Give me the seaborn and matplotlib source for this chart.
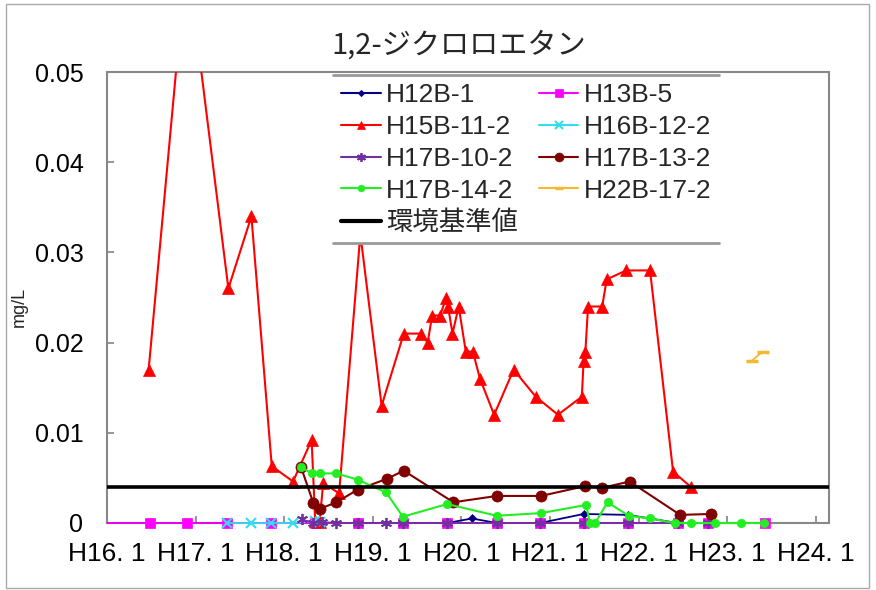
import matplotlib
matplotlib.use("Agg")
import matplotlib.pyplot as plt
import seaborn as sns
from matplotlib.lines import Line2D
from matplotlib.patches import Rectangle

sns.set_theme(style="white")
plt.rcParams['font.family'] = ['Liberation Sans', 'Noto Sans CJK JP', 'DejaVu Sans']

# ---------------- data ----------------
title_text = "1,2-ジクロロエタン"
y_label = "mg/L"
x_tick_pos = [16, 17, 18, 19, 20, 21, 22, 23, 24]
x_tick_labels = ["H16. 1", "H17. 1", "H18. 1", "H19. 1", "H20. 1",
                 "H21. 1", "H22. 1", "H23. 1", "H24. 1"]
y_ticks = [0, 0.01, 0.02, 0.03, 0.04, 0.05]
standard_label = "環境基準値"
standard_value = 0.004

h12b1_x = [15.5, 16.49, 16.90, 17.35, 17.85, 18.35, 18.83, 19.34, 19.84, 20.12,
           20.40, 20.89, 21.38, 21.88, 22.44]
h12b1_y = [0, 0, 0, 0, 0, 0, 0, 0, 0, 0.0005, 0, 0, 0.0010, 0.0009, 0]

h13b5_x = [15.5, 16.49, 16.90, 17.35, 17.85, 18.35, 18.83, 19.34, 19.84, 20.40,
           20.89, 21.38, 21.88, 22.44, 22.78, 23.43]
h13b5_y = [0] * 16

h15b112_x = [16.47, 16.90, 17.37, 17.63, 17.86, 18.10, 18.31, 18.35, 18.40, 18.44,
             18.62, 18.86, 19.10, 19.35, 19.54, 19.62, 19.67, 19.76, 19.83, 19.85,
             19.90, 19.97, 20.05, 20.13, 20.21, 20.37, 20.59, 20.84, 21.09, 21.36,
             21.38, 21.40, 21.43, 21.59, 21.64, 21.86, 22.13, 22.39, 22.59]
h15b112_y = [0.017, 0.063, 0.026, 0.034, 0.0063, 0.0046, 0.0092, 0.0002, 0.0001, 0.0044,
             0.0033, 0.032, 0.013, 0.021, 0.021, 0.020, 0.023, 0.023, 0.025, 0.024,
             0.021, 0.024, 0.019, 0.019, 0.016, 0.012, 0.017, 0.014, 0.012, 0.014,
             0.018, 0.019, 0.024, 0.024, 0.027, 0.028, 0.028, 0.0057, 0.0040]

h16b122_x = [17.35, 17.62, 17.85, 18.10, 18.35, 18.40]
h16b122_y = [0, 0, 0, 0, 0.0002, 0.0001]

h17b102_x = [18.20, 18.33, 18.43, 18.59, 18.83, 19.15, 19.34, 19.84, 20.40, 20.89,
             21.38, 21.88, 22.44, 22.78]
h17b102_y = [0.0004, 0, 0.0001, 0, 0, 0, 0, 0, 0, 0, 0, 0, 0, 0]

h17b132_x = [18.19, 18.33, 18.41, 18.59, 18.83, 19.16, 19.35, 19.91, 20.40, 20.90,
             21.40, 21.59, 21.90, 22.47, 22.82]
h17b132_y = [0.0062, 0.0022, 0.0016, 0.0023, 0.0037, 0.0049, 0.0058, 0.0023, 0.0030,
             0.0030, 0.0041, 0.0039, 0.0046, 0.0009, 0.0010]

h17b142_x = [18.19, 18.31, 18.40, 18.59, 18.83, 19.15, 19.34, 19.84, 20.40, 20.90,
             21.41, 21.45, 21.51, 21.65, 21.89, 22.13, 22.41, 22.59, 22.86, 23.16, 23.42]
h17b142_y = [0.0062, 0.0055, 0.0055, 0.0055, 0.0048, 0.0034, 0.0007, 0.0021, 0.0008,
             0.0011, 0.0020, 0, 0, 0.0023, 0.0008, 0.0005, 0, 0, 0, 0, 0]

h22b172_x = [23.28, 23.40]
h22b172_y = [0.018, 0.019]

series = [
    ("H12B-1", h12b1_x, h12b1_y),
    ("H13B-5", h13b5_x, h13b5_y),
    ("H15B-11-2", h15b112_x, h15b112_y),
    ("H16B-12-2", h16b122_x, h16b122_y),
    ("H17B-10-2", h17b102_x, h17b102_y),
    ("H17B-13-2", h17b132_x, h17b132_y),
    ("H17B-14-2", h17b142_x, h17b142_y),
    ("H22B-17-2", h22b172_x, h22b172_y),
]

# ---------------- styles ----------------
styles = {
    "H12B-1":    dict(color="#000080", marker="D", ms=4, mew=0.5, lw=1.3),
    "H13B-5":    dict(color="#ff00ff", marker="s", ms=7, mew=0.5, lw=1.3),
    "H15B-11-2": dict(color="#ff0000", marker="^", ms=8, mew=0.5, lw=1.5),
    "H16B-12-2": dict(color="#33ddf0", marker="x", ms=7, mew=1.5, lw=1.3),
    "H17B-10-2": dict(color="#7030a0", marker=(6, 2, 0), ms=8, mew=1.3, lw=1.3),
    "H17B-13-2": dict(color="#800000", marker="o", ms=8, mew=0.5, lw=1.5),
    "H17B-14-2": dict(color="#22ee22", marker="o", ms=6, mew=0.5, lw=1.5),
    "H22B-17-2": dict(color="#f5b830", marker="_", ms=8, mew=2.5, lw=1.3),
}

fig = plt.figure(figsize=(8.76, 5.90), dpi=100)
ax = fig.add_axes([107 / 876, 1 - 523 / 590, 722 / 876, 451 / 590])

for name, xs, ys in series:
    st = styles[name]
    sns.lineplot(x=xs, y=ys, ax=ax, color=st["color"], marker=st["marker"],
                 markersize=st["ms"], markeredgewidth=st["mew"],
                 markeredgecolor=st["color"], linewidth=st["lw"],
                 estimator=None, sort=False, legend=False, zorder=3)

ax.axhline(standard_value, color="black", lw=2.6, zorder=4)

ax.set_xlim(16.0, 24.15)
ax.set_ylim(0, 0.05)

clip_rect = Rectangle((0, -0.03), 1, 1.03, transform=ax.transAxes)
for ln in ax.get_lines():
    ln.set_clip_path(clip_rect)

ax.set_xticks(x_tick_pos)
ax.set_xticklabels(x_tick_labels, fontsize=19)
ax.set_yticks(y_ticks)
ax.set_yticklabels([f"{v:g}" for v in y_ticks], fontsize=18)
ax.tick_params(axis="x", bottom=True, direction="in", length=5, color="#888888",
               pad=14, labelcolor="black")
ax.tick_params(axis="y", left=True, direction="in", length=5, color="#888888",
               pad=17, labelcolor="black")
ax.grid(False)
for sp in ax.spines.values():
    sp.set_color("#888888")
    sp.set_linewidth(1.5)

ax.set_ylabel(y_label, fontsize=13)
ax.yaxis.set_label_coords(-0.11, 0.48)

fig.text(459 / 876, 1 - 46 / 590, title_text, fontsize=21, ha="center", va="center",
         family=["Noto Sans CJK JP", "DejaVu Sans"])

# legend (column-major order)
names_order = ["H12B-1", "H15B-11-2", "H17B-10-2", "H17B-14-2", None,
               "H13B-5", "H16B-12-2", "H17B-13-2", "H22B-17-2"]
handles, labels = [], []
for nm in names_order:
    if nm is None:
        handles.append(Line2D([], [], color="black", lw=3))
        labels.append(standard_label)
    else:
        st = styles[nm]
        handles.append(Line2D([], [], color=st["color"], marker=st["marker"],
                              markersize=st["ms"] * 0.8, markeredgewidth=st["mew"],
                              markeredgecolor=st["color"], lw=1.5))
        labels.append(nm)

leg = fig.legend(handles, labels, loc="upper left",
                 bbox_to_anchor=(333 / 876, 1 - 75 / 590),
                 bbox_transform=fig.transFigure, ncol=2, fontsize=19,
                 frameon=True, fancybox=False, framealpha=1, borderpad=0.3,
                 labelspacing=0.3, handlelength=1.5, handletextpad=0.2,
                 columnspacing=0.8, borderaxespad=0)
leg.get_frame().set_edgecolor("none")
leg.get_frame().set_facecolor("white")
leg.set_zorder(10)

fig.canvas.draw()
bb = leg.get_window_extent().transformed(fig.transFigure.inverted())
for yy in (bb.y0, bb.y1):
    fig.add_artist(Line2D([bb.x0, bb.x1], [yy, yy], transform=fig.transFigure,
                          color="#999999", lw=2, zorder=11))

fig.patches.append(Rectangle((6 / 876, 2 / 590), 863 / 876, 584 / 590,
                             transform=fig.transFigure, fill=False,
                             edgecolor="#aaaaaa", lw=1))

fig.savefig("out.png", dpi=100)
